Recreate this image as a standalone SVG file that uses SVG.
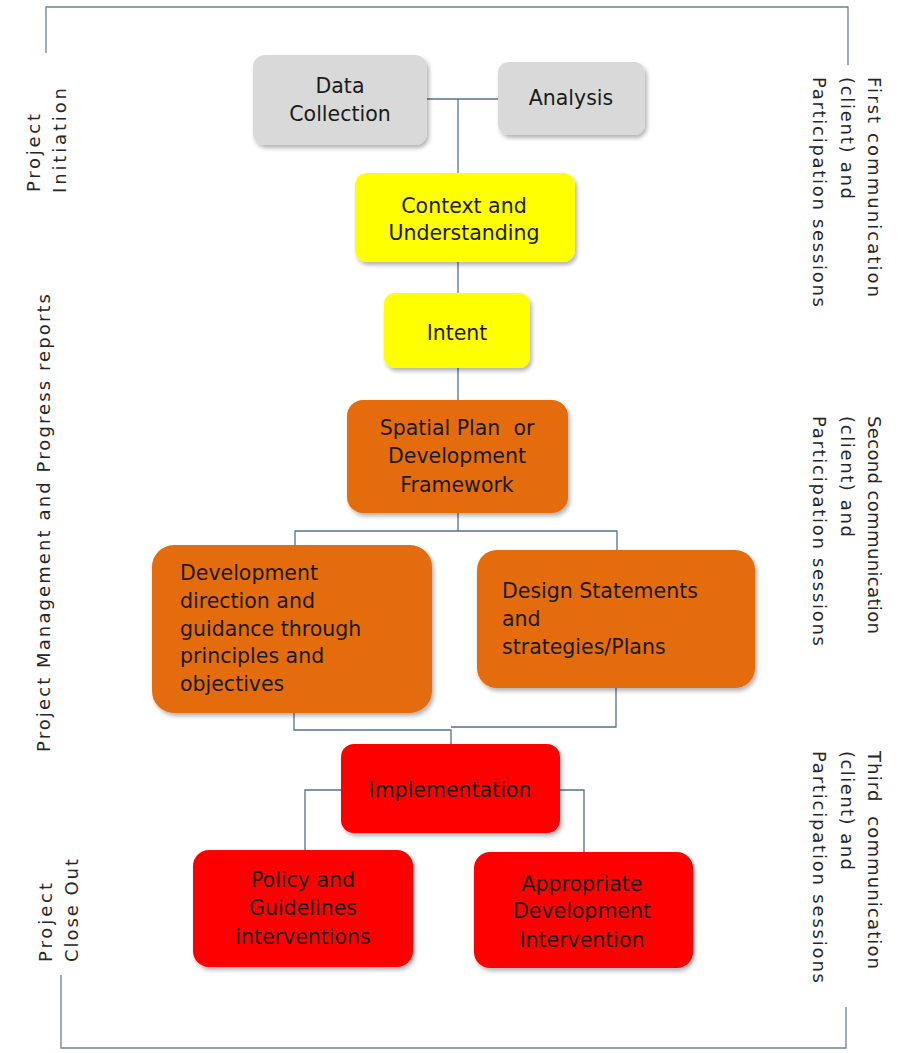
<svg xmlns="http://www.w3.org/2000/svg" width="901" height="1053" viewBox="0 0 901 1053">
<style>
.frame{fill:none;stroke:#6d8194;stroke-width:1.3}
.conn{fill:none;stroke:#55708f;stroke-width:1.3}
.gray{fill:#d9d9d9}
.yellow{fill:#ffff00}
.orange{fill:#e46c0a}
.red{fill:#ff0000}
.lbl{font-family:"DejaVu Sans","Liberation Sans",sans-serif;font-size:20.5px;fill:#1a1a1a}
.mid{text-anchor:middle}
.side{font-family:"DejaVu Sans","Liberation Sans",sans-serif;font-size:18px;fill:#262626}
</style>
<defs>
<filter id="sh" x="-10%" y="-10%" width="125%" height="130%">
<feDropShadow dx="2" dy="3" stdDeviation="2" flood-color="#000" flood-opacity="0.3"/>
</filter>
</defs>
<rect width="901" height="1053" fill="#ffffff"/>
<g id="frame">
<polyline class="frame" points="46,53 46,7 848,7 848,65"/>
<polyline class="frame" points="61,975 61,1048 846,1048 846,1007"/>
</g>
<g id="connectors">
<line class="conn" x1="427" y1="99" x2="498" y2="99"/>
<line class="conn" x1="458" y1="99" x2="458" y2="173"/>
<line class="conn" x1="458" y1="262" x2="458" y2="293"/>
<line class="conn" x1="458" y1="368" x2="458" y2="400"/>
<polyline class="conn" points="458,513 458,531 295,531 295,545"/>
<polyline class="conn" points="458,531 617,531 617,550"/>
<polyline class="conn" points="294,713 294,730 451,730 451,744"/>
<polyline class="conn" points="616,688 616,727 451,727"/>
<polyline class="conn" points="341,790 305,790 305,850"/>
<polyline class="conn" points="560,790 584,790 584,852"/>
</g>
<g id="data-collection">
<rect class="gray" x="253" y="55" width="174" height="90" rx="12" filter="url(#sh)"/>
<text class="lbl mid" x="340" y="93">Data</text>
<text class="lbl mid" x="340" y="121">Collection</text>
</g>
<g id="analysis">
<rect class="gray" x="498" y="62" width="147" height="73" rx="11" filter="url(#sh)"/>
<text class="lbl mid" x="571" y="105">Analysis</text>
</g>
<g id="context">
<rect class="yellow" x="355" y="173" width="220" height="89" rx="12" filter="url(#sh)"/>
<text class="lbl mid" x="464" y="213">Context and</text>
<text class="lbl mid" x="464" y="240">Understanding</text>
</g>
<g id="intent">
<rect class="yellow" x="384" y="293" width="146" height="75" rx="11" filter="url(#sh)"/>
<text class="lbl mid" x="457" y="340">Intent</text>
</g>
<g id="spatial-plan">
<rect class="orange" x="347" y="400" width="221" height="113" rx="16" filter="url(#sh)"/>
<text class="lbl mid" x="457" y="435" xml:space="preserve">Spatial Plan  or</text>
<text class="lbl mid" x="457" y="463">Development</text>
<text class="lbl mid" x="457" y="492">Framework</text>
</g>
<g id="development-direction">
<rect class="orange" x="152" y="545" width="280" height="168" rx="22" filter="url(#sh)"/>
<text class="lbl" x="180" y="580">Development</text>
<text class="lbl" x="180" y="608">direction and</text>
<text class="lbl" x="180" y="636">guidance through</text>
<text class="lbl" x="180" y="663">principles and</text>
<text class="lbl" x="180" y="691">objectives</text>
</g>
<g id="design-statements">
<rect class="orange" x="477" y="550" width="278" height="138" rx="20" filter="url(#sh)"/>
<text class="lbl" x="502" y="598">Design Statements</text>
<text class="lbl" x="502" y="626">and</text>
<text class="lbl" x="502" y="654">strategies/Plans</text>
</g>
<g id="implementation">
<rect class="red" x="341" y="744" width="219" height="89" rx="13" filter="url(#sh)"/>
<text class="lbl mid" x="450" y="797">Implementation</text>
</g>
<g id="policy">
<rect class="red" x="193" y="850" width="220" height="117" rx="16" filter="url(#sh)"/>
<text class="lbl mid" x="303" y="887">Policy and</text>
<text class="lbl mid" x="303" y="915">Guidelines</text>
<text class="lbl mid" x="303" y="944">interventions</text>
</g>
<g id="appropriate">
<rect class="red" x="474" y="852" width="219" height="116" rx="16" filter="url(#sh)"/>
<text class="lbl mid" x="582" y="891">Appropriate</text>
<text class="lbl mid" x="582" y="918">Development</text>
<text class="lbl mid" x="582" y="947">Intervention</text>
</g>
<g id="left-labels">
<text class="side" transform="translate(40,192) rotate(-90)" textLength="78" lengthAdjust="spacing">Project</text>
<text class="side" transform="translate(66,193) rotate(-90)" textLength="105" lengthAdjust="spacing">Initiation</text>
<text class="side" transform="translate(50,752) rotate(-90)" textLength="458" lengthAdjust="spacing">Project Management and Progress reports</text>
<text class="side" transform="translate(52,962) rotate(-90)" textLength="79" lengthAdjust="spacing">Project</text>
<text class="side" transform="translate(78,962) rotate(-90)" textLength="103" lengthAdjust="spacing">Close Out</text>
</g>
<g id="right-labels">
<text class="side" transform="translate(868,77) rotate(90)" textLength="220" lengthAdjust="spacing">First communication</text>
<text class="side" transform="translate(841,77) rotate(90)" textLength="122" lengthAdjust="spacing">(client) and</text>
<text class="side" transform="translate(813,77) rotate(90)" textLength="230" lengthAdjust="spacing">Participation sessions</text>
<text class="side" transform="translate(868,416) rotate(90)" textLength="218" lengthAdjust="spacing">Second communication</text>
<text class="side" transform="translate(841,416) rotate(90)" textLength="121" lengthAdjust="spacing">(client) and</text>
<text class="side" transform="translate(813,416) rotate(90)" textLength="230" lengthAdjust="spacing">Participation sessions</text>
<text class="side" transform="translate(868,751) rotate(90)" textLength="218" lengthAdjust="spacing" xml:space="preserve">Third  communication</text>
<text class="side" transform="translate(841,751) rotate(90)" textLength="119" lengthAdjust="spacing">(client) and</text>
<text class="side" transform="translate(813,751) rotate(90)" textLength="232" lengthAdjust="spacing">Participation sessions</text>
</g>
</svg>
